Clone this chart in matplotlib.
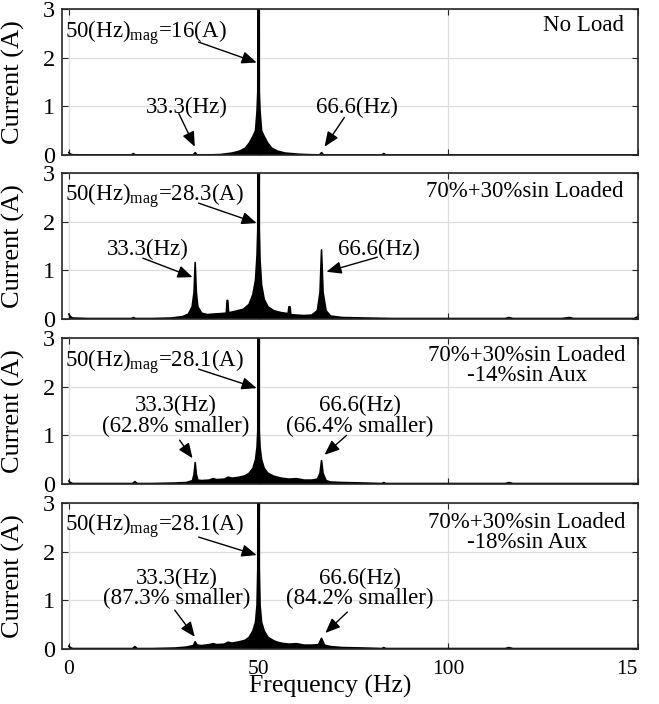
#
# FFT of stator current, four load cases
#
import numpy as np
import matplotlib
matplotlib.use("Agg")
import matplotlib.pyplot as plt

plt.rcParams['font.family'] = ['Liberation Serif', 'DejaVu Serif']
plt.rcParams['mathtext.fontset'] = 'custom'
plt.rcParams['mathtext.rm'] = 'Liberation Serif'
plt.rcParams['mathtext.it'] = 'Liberation Serif:italic'

#
# spectra (Hz, A)
#
f_noload = [0, 0.4, 1, 5, 10, 16.5, 17, 17.5, 25, 32.8, 33.3, 33.8, 38, 40, 43, 45,
            46.5, 47.6, 48.5, 49.2, 49.6, 49.8, 50, 50.2, 50.4, 50.8, 51.5, 52.4,
            53.5, 55, 57, 60.8, 64, 66.1, 66.6, 67.1, 75, 82.5, 83, 83.5, 100, 150]
a_noload = [0.05, 0.02, 0.005, 0.003, 0.003, 0.003, 0.03, 0.003, 0.002, 0.003, 0.05,
            0.004, 0.005, 0.01, 0.04, 0.08, 0.14, 0.25, 0.38, 0.5, 0.9, 1.3, 16.0,
            1.3, 0.9, 0.5, 0.38, 0.25, 0.14, 0.08, 0.04, 0.015, 0.006, 0.004, 0.05,
            0.003, 0.002, 0.002, 0.03, 0.002, 0.002, 0.002]

f_load = [0, 0.4, 1, 5, 10, 16.5, 17, 17.5, 22, 27, 30, 31.5, 32.5, 33, 33.3, 33.6,
          34, 35, 36.5, 38, 40, 41.5, 41.7, 41.9, 42.1, 42.3, 44, 46, 47.5, 48.5,
          49.2, 49.6, 49.8, 50, 50.2, 50.4, 50.8, 51.5, 52.5, 54, 56, 57.8, 58,
          58.3, 58.5, 60, 62, 64, 65.5, 66.2, 66.6, 67, 67.8, 69, 72, 78, 85, 100,
          115, 116, 117, 130, 132, 133, 138, 149, 150]
a_load = [0.1, 0.05, 0.02, 0.01, 0.01, 0.01, 0.03, 0.01, 0.01, 0.02, 0.05, 0.1, 0.25,
          0.55, 1.16, 0.55, 0.25, 0.12, 0.09, 0.1, 0.11, 0.12, 0.38, 0.38, 0.13, 0.13,
          0.16, 0.2, 0.3, 0.5, 0.8, 1.3, 1.85, 28.3, 1.85, 1.2, 0.7, 0.4, 0.25,
          0.17, 0.13, 0.11, 0.25, 0.25, 0.09, 0.08, 0.07, 0.08, 0.17, 0.55, 1.42, 0.55,
          0.17, 0.06, 0.03, 0.02, 0.01, 0.01, 0.01, 0.03, 0.01, 0.01, 0.03, 0.01,
          0.01, 0.01, 0.05]

f_aux14 = [0, 0.4, 1, 5, 10, 16.8, 17.4, 18, 22, 28, 31, 32.6, 33, 33.3, 33.6, 34, 35,
           37, 38, 39, 41, 42, 43, 45, 46.5, 47.5, 48.5, 49.2, 49.6, 49.8, 50, 50.2,
           50.4, 50.8, 51.5, 52.5, 54, 55, 56, 58, 60, 62, 64, 65.5, 66.2, 66.6, 67,
           67.8, 69, 72, 78, 82.5, 83, 83.5, 100, 115, 116, 117, 150]
a_aux14 = [0.06, 0.03, 0.01, 0.01, 0.01, 0.01, 0.05, 0.01, 0.01, 0.02, 0.03, 0.07, 0.2,
           0.44, 0.2, 0.08, 0.07, 0.08, 0.11, 0.09, 0.1, 0.14, 0.12, 0.14, 0.17, 0.22,
           0.32, 0.5, 0.75, 1.1, 28.1, 1.1, 0.75, 0.5, 0.32, 0.22, 0.16, 0.14, 0.12,
           0.1, 0.11, 0.08, 0.08, 0.1, 0.22, 0.48, 0.22, 0.07, 0.04, 0.03, 0.02,
           0.01, 0.03, 0.01, 0.01, 0.01, 0.03, 0.01, 0.01]

f_aux18 = [0, 0.4, 1, 5, 10, 16.8, 17.4, 18, 22, 28, 31, 32.8, 33.3, 33.8, 35, 37, 38,
           39, 41, 42, 43, 45, 46.5, 47.5, 48.5, 49.2, 49.6, 49.8, 50, 50.2, 50.4,
           50.8, 51.5, 52.5, 54, 55, 56, 58, 60, 62, 64, 65.8, 66.6, 67.4, 69, 72,
           78, 82.5, 83, 83.5, 100, 115, 116, 117, 150]
a_aux18 = [0.06, 0.03, 0.01, 0.01, 0.01, 0.01, 0.05, 0.01, 0.01, 0.02, 0.04, 0.07,
           0.15, 0.08, 0.07, 0.09, 0.11, 0.09, 0.1, 0.14, 0.12, 0.15, 0.18, 0.24,
           0.37, 0.55, 0.9, 1.66, 28.1, 1.66, 0.9, 0.55, 0.37, 0.24, 0.17, 0.14, 0.12,
           0.1, 0.11, 0.08, 0.08, 0.09, 0.22, 0.08, 0.05, 0.03, 0.02, 0.01, 0.03,
           0.01, 0.01, 0.01, 0.03, 0.01, 0.01]

freqs = [f_noload, f_load, f_aux14, f_aux18]
amps = [a_noload, a_load, a_aux14, a_aux18]

case_labels = ['No Load', '70%+30%sin Loaded',
               '70%+30%sin Loaded\n-14%sin Aux', '70%+30%sin Loaded\n-18%sin Aux']
fund_labels = [r'50(Hz)$_{\mathrm{mag}}$=16(A)', r'50(Hz)$_{\mathrm{mag}}$=28.3(A)',
               r'50(Hz)$_{\mathrm{mag}}$=28.1(A)', r'50(Hz)$_{\mathrm{mag}}$=28.1(A)']
low_labels = ['33.3(Hz)', '33.3(Hz)', '33.3(Hz)\n(62.8% smaller)', '33.3(Hz)\n(87.3% smaller)']
high_labels = ['66.6(Hz)', '66.6(Hz)', '66.6(Hz)\n(66.4% smaller)', '66.6(Hz)\n(84.2% smaller)']

xticks = [0, 50, 100, 150]
xticklabels = ['0', '50', '100', '15']
yticks = [0, 1, 2, 3]

# annotation placement per panel (data coords)
fund_pos = [(-1, 2.42), (-1, 2.44), (-1, 2.40), (-1, 2.44)]
fund_arrow = [((34.2, 2.32), (49.5, 1.90)), ((34.2, 2.38), (49.5, 1.97)),
              ((34.2, 2.36), (49.5, 1.97)), ((34.2, 2.30), (49.5, 1.93))]
low_pos = [(31, 0.87, 'baseline'), (20.8, 1.31, 'baseline'), (28.2, 1.40, 'center'), (28.4, 1.25, 'center')]
low_arrow = [((29, 0.85), (33.2, 0.17)), ((19.5, 1.25), (32.6, 0.86)),
             ((29.2, 0.90), (32.6, 0.53)), ((27.9, 0.80), (33.2, 0.25))]
high_pos = [(76, 0.87, 'baseline'), (81.6, 1.31, 'baseline'), (76.6, 1.40, 'center'), (76.6, 1.25, 'center')]
high_arrow = [((72.6, 0.77), (67.4, 0.17)), ((81.3, 1.27), (67.9, 0.97)),
              ((73.2, 1.00), (67.4, 0.60)), ((73.4, 0.76), (67.6, 0.33))]
case_pos = [(146.3, 2.55, 'right', 'baseline'), (146.3, 2.50, 'right', 'baseline'),
            (120.8, 2.44, 'center', 'center'), (120.8, 2.40, 'center', 'center')]

#
# plot
#
fig = plt.figure(figsize=(6.59, 7.04), dpi=100)
bottoms = [0.7798, 0.5469, 0.3125, 0.0781]
txt = 16.5
arrow = dict(arrowstyle='-|>,head_length=0.6,head_width=0.25', color='k', lw=1.0,
             shrinkA=0, shrinkB=0, mutation_scale=15)

for i in range(4):
    ax = fig.add_axes([0.0941, bottoms[i], 0.874, 0.2074])
    ax.fill_between(freqs[i], amps[i], 0, color='k', lw=0)
    ax.plot(freqs[i], amps[i], color='k', lw=1.2)
    ax.set_xlim(-1.8, 150)
    ax.set_ylim(0, 3)
    ax.set_xticks(xticks)
    ax.set_yticks(yticks)
    ax.grid(True, color='#dddddd', lw=0.9)
    ax.set_axisbelow(True)
    ax.tick_params(direction='in', length=4, top=True, right=True, color='#262626')
    ax.tick_params(axis='y', labelsize=17.5, pad=5)
    for s in ax.spines.values():
        s.set_linewidth(1.2)
        s.set_color('#262626')
    ax.set_ylabel('Current (A)', fontsize=19)
    ax.yaxis.set_label_coords(-0.064, 0.5)
    if i < 3:
        ax.tick_params(axis='x', labelbottom=False)
    else:
        ax.set_xticklabels(xticklabels)
        ax.tick_params(axis='x', labelsize=15.5, pad=8)
        ax.get_xticklabels()[-1].set_horizontalalignment('right')
        ax.set_xlabel('Frequency (Hz)', fontsize=18.5)
        ax.xaxis.set_label_coords(0.465, -0.175)

    ax.text(fund_pos[i][0], fund_pos[i][1], fund_labels[i], fontsize=txt,
            ha='left', va='baseline')
    ax.annotate('', xy=fund_arrow[i][1], xytext=fund_arrow[i][0], arrowprops=arrow)
    ax.text(low_pos[i][0], low_pos[i][1], low_labels[i], fontsize=txt, ha='center',
            va=low_pos[i][2], multialignment='center', linespacing=0.95)
    ax.annotate('', xy=low_arrow[i][1], xytext=low_arrow[i][0], arrowprops=arrow)
    ax.text(high_pos[i][0], high_pos[i][1], high_labels[i], fontsize=txt, ha='center',
            va=high_pos[i][2], multialignment='center', linespacing=0.95)
    ax.annotate('', xy=high_arrow[i][1], xytext=high_arrow[i][0], arrowprops=arrow)
    ax.text(case_pos[i][0], case_pos[i][1], case_labels[i], fontsize=txt,
            ha=case_pos[i][2], va=case_pos[i][3], multialignment='center', linespacing=0.95)

plt.savefig('out.png', dpi=100)
plt.close()
